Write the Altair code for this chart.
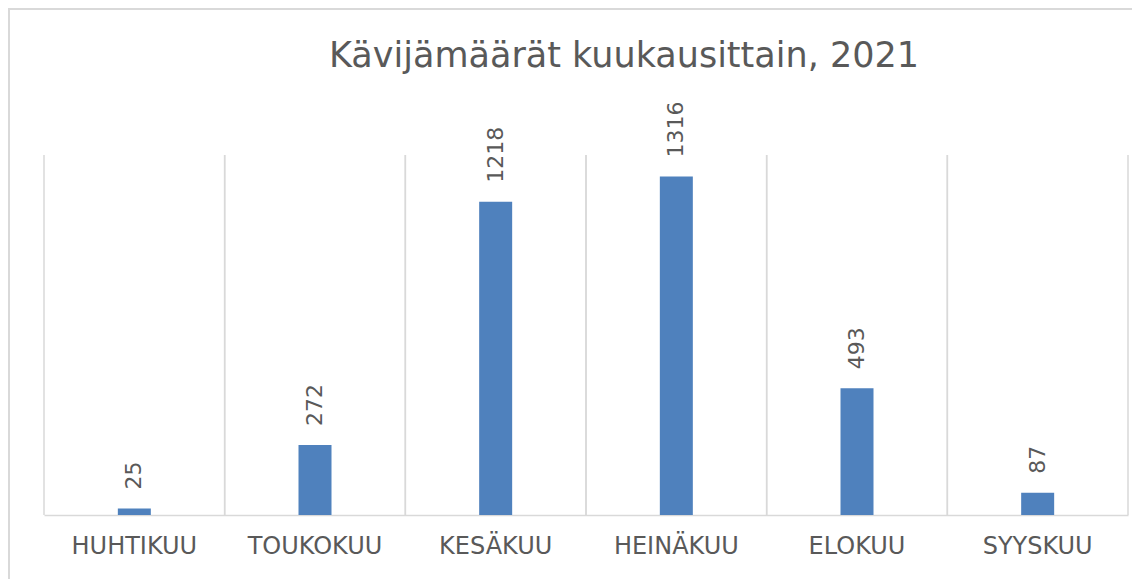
import altair as alt
import pandas as pd

months = ["HUHTIKUU", "TOUKOKUU", "KESÄKUU", "HEINÄKUU", "ELOKUU", "SYYSKUU"]
visitors = [25, 272, 1218, 1316, 493, 87]
title_text = ["Kävijämäärät kuukausittain, 2021"]

df = pd.DataFrame({"month": months, "visitors": visitors})

W, H = 1084, 360
GREY = "#595959"
LINE = "#d9d9d9"
FONT = "DejaVu Sans"

xscale = alt.Scale(domain=months, paddingInner=0, paddingOuter=0)
yscale = alt.Scale(domain=[0, 1400])

base = alt.Chart(df)

grid_left = base.mark_rule(color=LINE, strokeWidth=1.5).encode(
    x=alt.X("month:N", scale=xscale, sort=months, bandPosition=0,
            axis=alt.Axis(title=None, labelAngle=0, labelFont=FONT, labelFontSize=24,
                          labelColor=GREY, ticks=False, domainColor=LINE, domainWidth=1.5,
                          labelPadding=19, grid=False)),
    y=alt.value(0), y2=alt.value(H),
)
grid_right = base.mark_rule(color=LINE, strokeWidth=1.5).encode(
    x=alt.X("month:N", scale=xscale, sort=months, bandPosition=1),
    y=alt.value(0), y2=alt.value(H),
)

bars = base.mark_bar(color="#4f81bd", size=33).encode(
    x=alt.X("month:N", scale=xscale, sort=months),
    y=alt.Y("visitors:Q", scale=yscale, axis=None),
)

labels = base.mark_text(angle=270, align="left", baseline="middle", dx=19,
                        font=FONT, fontSize=22, color=GREY).encode(
    x=alt.X("month:N", scale=xscale, sort=months),
    y=alt.Y("visitors:Q", scale=yscale),
    text=alt.Text("visitors:Q"),
)

title = alt.Chart(pd.DataFrame({"t": title_text})).mark_text(
    font=FONT, fontSize=35, color=GREY, align="center", baseline="alphabetic"
).encode(x=alt.value(580), y=alt.value(-88), text="t:N")

frame = alt.Chart(pd.DataFrame({"a": [0]})).mark_rect(
    fill="transparent", stroke=LINE, strokeWidth=2
).encode(x=alt.value(-35), x2=alt.value(3000), y=alt.value(-146), y2=alt.value(3000))

chart = alt.layer(frame, grid_left, grid_right, bars, labels, title).properties(
    width=W, height=H,
    autosize=alt.AutoSizeParams(type="none"),
    padding={"left": 36, "top": 147, "right": 4, "bottom": 64},
    background="white",
).configure_view(stroke=None)

chart.save("out.html", embed_options={"renderer": "svg", "actions": False})
